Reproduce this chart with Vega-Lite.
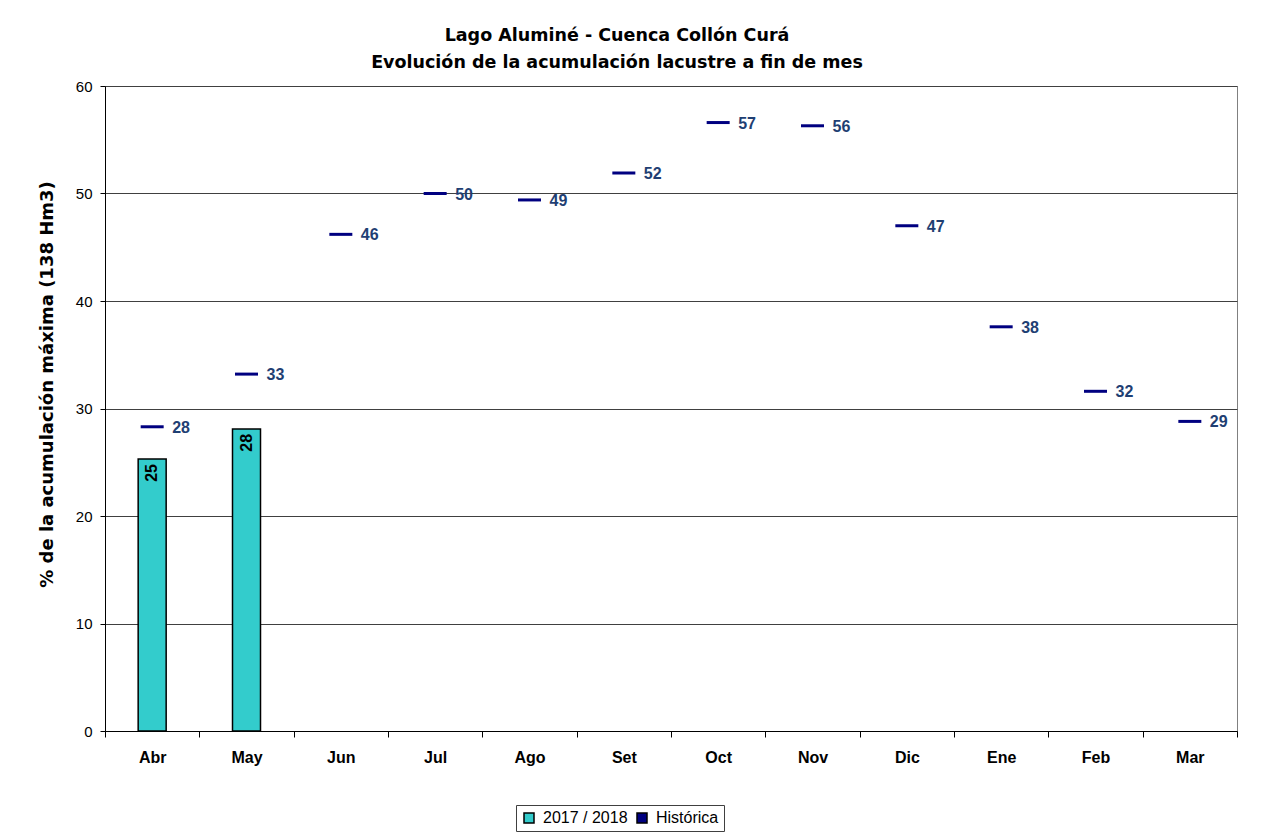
{
  "$schema": "https://vega.github.io/schema/vega-lite/v6.json",
  "autosize": {"type": "none"},
  "width": 1132,
  "height": 645,
  "padding": {"left": 105, "top": 86, "right": 24, "bottom": 108},
  "background": "white",
  "title": {
    "text": ["Lago Aluminé - Cuenca Collón Curá", "Evolución de la acumulación lacustre a fin de mes"],
    "font": "DejaVu Sans",
    "fontSize": 17.5,
    "fontWeight": "bold",
    "color": "black",
    "lineHeight": 27,
    "anchor": "middle",
    "dx": -54,
    "offset": 8
  },
  "config": {
    "font": "Liberation Sans",
    "view": {"stroke": "#808080", "strokeWidth": 1}
  },
  "data": {
    "values": [
      {"mes": "Abr", "hist": 28.3, "actual": 25.3},
      {"mes": "May", "hist": 33.2, "actual": 28.1},
      {"mes": "Jun", "hist": 46.2, "actual": null},
      {"mes": "Jul", "hist": 50.0, "actual": null},
      {"mes": "Ago", "hist": 49.4, "actual": null},
      {"mes": "Set", "hist": 51.9, "actual": null},
      {"mes": "Oct", "hist": 56.6, "actual": null},
      {"mes": "Nov", "hist": 56.3, "actual": null},
      {"mes": "Dic", "hist": 47.0, "actual": null},
      {"mes": "Ene", "hist": 37.6, "actual": null},
      {"mes": "Feb", "hist": 31.6, "actual": null},
      {"mes": "Mar", "hist": 28.8, "actual": null}
    ]
  },
  "encoding": {
    "x": {
      "field": "mes",
      "type": "nominal",
      "sort": null,
      "scale": {"paddingInner": 0, "paddingOuter": 0},
      "axis": {
        "title": null,
        "labelAngle": 0,
        "labelFont": "Liberation Sans",
        "labelFontSize": 16,
        "labelFontWeight": "bold",
        "labelColor": "black",
        "labelPadding": 12,
        "tickBand": "extent",
        "tickColor": "black",
        "tickSize": 6,
        "domainColor": "black",
        "grid": false
      }
    }
  },
  "layer": [
    {
      "mark": {"type": "bar", "size": 28, "stroke": "black", "strokeWidth": 1.5, "opacity": 1},
      "encoding": {
        "y": {
          "field": "actual",
          "type": "quantitative",
          "scale": {"domain": [0, 60]},
          "axis": {
            "title": "% de la acumulación máxima (138 Hm3)",
            "titleFont": "DejaVu Sans",
            "titleFontSize": 18,
            "titleFontWeight": "bold",
            "titleColor": "black",
            "titleAngle": 270,
            "titleX": -58,
            "titleY": 298,
            "titleAlign": "center",
            "titleBaseline": "middle",
            "values": [0, 10, 20, 30, 40, 50, 60],
            "labelFont": "Liberation Sans",
            "labelFontSize": 15,
            "labelColor": "black",
            "labelPadding": 8,
            "tickColor": "black",
            "tickSize": 5,
            "domainColor": "black",
            "grid": true,
            "gridColor": "#404040",
            "gridWidth": 1
          }
        },
        "color": {
          "datum": "2017 / 2018",
          "type": "nominal",
          "scale": {"domain": ["2017 / 2018", "Histórica"], "range": ["#33CCCC", "#000080"]},
          "legend": {
            "title": null,
            "orient": "none",
            "legendX": 411,
            "legendY": 719,
            "direction": "horizontal",
            "strokeColor": "#404040",
            "fillColor": "white",
            "padding": 5,
            "labelFont": "Liberation Sans",
            "labelFontSize": 16,
            "labelColor": "black",
            "symbolSize": 100,
            "columnPadding": 6,
            "symbolOffset": 0,
            "labelOffset": 6,
            "symbolType": "square",
            "encode": {
              "symbols": {
                "shape": {"condition": {"test": "datum.value === 'Histórica'", "value": "stroke"}, "value": "square"},
                "stroke": {"condition": {"test": "datum.value === 'Histórica'", "value": "#000080"}, "value": "black"},
                "strokeWidth": {"condition": {"test": "datum.value === 'Histórica'", "value": 3}, "value": 1.2},
                "fill": {"condition": {"test": "datum.value === 'Histórica'", "value": "transparent"}, "value": "#33CCCC"},
                "opacity": {"value": 1}
              }
            }
          }
        }
      }
    },
    {
      "mark": {"type": "text", "angle": 270, "align": "right", "baseline": "middle", "dx": -5, "font": "Liberation Sans", "fontSize": 16, "fontWeight": "bold", "color": "black"},
      "encoding": {
        "y": {"field": "actual", "type": "quantitative"},
        "text": {"field": "actual", "type": "quantitative", "format": ".0f"}
      }
    },
    {
      "mark": {"type": "tick", "orient": "horizontal", "size": 23, "thickness": 3, "opacity": 1},
      "encoding": {
        "y": {"field": "hist", "type": "quantitative"},
        "color": {
          "datum": "Histórica",
          "type": "nominal",
          "legend": {
            "title": null,
            "orient": "none",
            "legendX": 411,
            "legendY": 719,
            "direction": "horizontal",
            "strokeColor": "#404040",
            "fillColor": "white",
            "padding": 5,
            "labelFont": "Liberation Sans",
            "labelFontSize": 16,
            "labelColor": "black",
            "symbolSize": 100,
            "columnPadding": 6,
            "symbolOffset": 0,
            "labelOffset": 6,
            "symbolType": "square",
            "encode": {
              "symbols": {
                "shape": {"condition": {"test": "datum.value === 'Histórica'", "value": "stroke"}, "value": "square"},
                "stroke": {"condition": {"test": "datum.value === 'Histórica'", "value": "#000080"}, "value": "black"},
                "strokeWidth": {"condition": {"test": "datum.value === 'Histórica'", "value": 3}, "value": 1.2},
                "fill": {"condition": {"test": "datum.value === 'Histórica'", "value": "transparent"}, "value": "#33CCCC"},
                "opacity": {"value": 1}
              }
            }
          }
        }
      }
    },
    {
      "mark": {"type": "text", "align": "left", "baseline": "middle", "dx": 20, "dy": 1, "font": "Liberation Sans", "fontSize": 16, "fontWeight": "bold", "color": "#1F3F73"},
      "encoding": {
        "y": {"field": "hist", "type": "quantitative"},
        "text": {"field": "hist", "type": "quantitative", "format": ".0f"}
      }
    }
  ]
}
